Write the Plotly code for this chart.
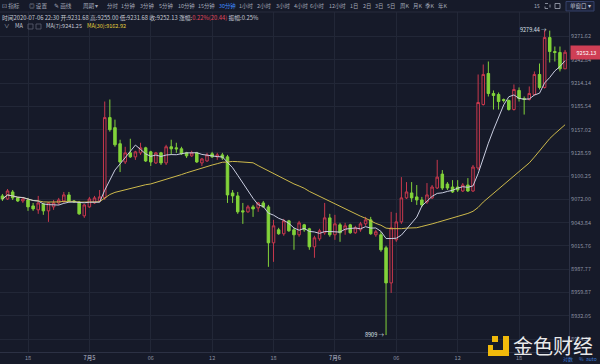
import numpy as np
import pandas as pd
import plotly.graph_objects as go

# ---------------- data ----------------
times = pd.date_range("2020-07-04 15:30", periods=111, freq="30min")

open_ = [
    9076.2, 9072.5, 9081.0, 9073.8, 9070.1, 9071.3, 9064.1, 9059.3, 9066.5, 9058.1,
    9062.9, 9067.7, 9070.1, 9077.4, 9070.1, 9068.9, 9052.1, 9062.9, 9067.7, 9070.1,
    9073.8, 9171.7, 9159.4, 9139.7, 9117.5, 9128.6, 9123.7, 9128.6, 9134.7, 9129.8,
    9116.3, 9128.6, 9116.3, 9136.0, 9134.7, 9133.5, 9128.6, 9124.9, 9128.6, 9116.3,
    9118.7, 9127.4, 9123.7, 9126.1, 9123.7, 9079.8, 9076.2, 9058.1, 9056.9, 9062.9,
    9061.7, 9067.7, 9062.9, 9019.5, 9035.2, 9030.4, 9046.0, 9035.2, 9029.2, 9041.2,
    9036.4, 9014.7, 9024.3, 9031.6, 9049.6, 9029.2, 9041.2, 9035.2, 9041.2, 9031.6,
    9035.2, 9042.4, 9047.2, 9029.2, 9029.2, 9013.5, 8971.3, 9023.1, 9044.8, 9073.8,
    9079.8, 9075.0, 9071.3, 9068.9, 9073.8, 9085.8, 9102.7, 9090.6, 9087.0, 9087.0,
    9082.2, 9089.4, 9082.2, 9110.1, 9187.7, 9225.9, 9201.3, 9200.0, 9193.9, 9192.7,
    9181.6, 9205.0, 9195.1, 9193.9, 9200.0, 9224.7, 9208.7, 9270.3, 9253.0, 9251.8,
    9231.68,
]
high = [
    9078.6, 9084.6, 9083.4, 9075.0, 9075.0, 9073.8, 9067.7, 9076.2, 9067.7, 9068.9,
    9071.3, 9073.8, 9081.0, 9081.0, 9071.3, 9070.1, 9066.5, 9075.0, 9076.2, 9083.4,
    9191.4, 9193.9, 9169.2, 9144.6, 9136.0, 9145.8, 9131.1, 9140.9, 9136.0, 9131.1,
    9129.8, 9129.8, 9138.4, 9144.6, 9140.9, 9136.0, 9129.8, 9131.1, 9129.8, 9122.4,
    9128.6, 9129.8, 9128.6, 9128.6, 9126.1, 9083.4, 9081.0, 9067.7, 9065.3, 9065.3,
    9068.9, 9070.1, 9065.3, 9047.2, 9037.6, 9048.4, 9047.2, 9037.6, 9046.0, 9042.4,
    9037.6, 9028.0, 9036.4, 9067.7, 9054.5, 9053.3, 9043.6, 9043.6, 9042.4, 9040.0,
    9044.8, 9050.8, 9050.8, 9035.2, 9032.8, 9015.9, 9056.9, 9055.7, 9099.0, 9093.0,
    9093.0, 9089.4, 9075.0, 9091.8, 9089.4, 9120.0, 9107.6, 9093.0, 9095.4, 9095.4,
    9091.8, 9097.8, 9113.8, 9224.7, 9237.0, 9240.7, 9205.0, 9202.5, 9195.1, 9193.9,
    9212.4, 9208.7, 9197.6, 9209.9, 9228.4, 9238.2, 9279.44, 9278.9, 9259.2, 9259.2,
    9255.00,
]
low = [
    9070.1, 9071.3, 9071.3, 9068.9, 9067.7, 9058.1, 9058.1, 9054.5, 9053.3, 9044.8,
    9059.3, 9065.3, 9067.7, 9068.9, 9067.7, 9053.3, 9049.6, 9061.7, 9066.5, 9068.9,
    9071.3, 9154.5, 9136.0, 9105.2, 9115.0, 9122.4, 9120.0, 9126.1, 9117.5, 9112.6,
    9115.0, 9113.8, 9113.8, 9126.1, 9128.6, 9126.1, 9122.4, 9123.7, 9116.3, 9112.6,
    9117.5, 9122.4, 9120.0, 9120.0, 9067.7, 9067.7, 9054.5, 9042.4, 9055.7, 9050.8,
    9056.9, 9061.7, 8990.6, 8996.6, 9029.2, 9028.0, 9032.8, 9011.1, 9026.8, 9032.8,
    9011.1, 9001.5, 9021.9, 9029.2, 9026.8, 9023.1, 9020.7, 9029.2, 9030.4, 9030.4,
    9032.8, 9040.0, 9029.2, 9026.8, 9008.7, 8909.0, 8959.3, 9020.7, 9042.4, 9072.5,
    9068.9, 9065.3, 9062.9, 9066.5, 9072.5, 9084.6, 9083.4, 9083.4, 9079.8, 9081.0,
    9081.0, 9081.0, 9081.0, 9107.6, 9186.5, 9197.6, 9181.6, 9181.6, 9190.2, 9180.3,
    9180.3, 9191.4, 9175.4, 9192.7, 9198.8, 9206.2, 9207.4, 9239.5, 9240.7, 9228.4,
    9231.68,
]
close = [
    9072.5, 9082.2, 9073.8, 9070.1, 9072.5, 9062.9, 9060.5, 9067.7, 9058.1, 9067.7,
    9067.7, 9071.3, 9077.4, 9070.1, 9068.9, 9054.5, 9065.3, 9072.5, 9073.8, 9075.0,
    9171.7, 9156.9, 9138.4, 9117.5, 9128.6, 9123.7, 9129.8, 9134.7, 9118.7, 9117.5,
    9128.6, 9116.3, 9136.0, 9133.5, 9133.5, 9127.4, 9124.9, 9128.6, 9117.5, 9121.2,
    9126.1, 9123.7, 9126.1, 9122.4, 9077.4, 9076.2, 9056.9, 9056.9, 9062.9, 9060.5,
    9067.7, 9062.9, 9019.5, 9040.0, 9030.4, 9046.0, 9034.0, 9029.2, 9043.6, 9035.2,
    9014.7, 9025.5, 9034.0, 9049.6, 9029.2, 9042.4, 9031.6, 9040.0, 9031.6, 9037.6,
    9042.4, 9047.2, 9030.4, 9032.8, 9011.1, 8971.3, 9037.6, 9044.8, 9073.8, 9081.0,
    9073.8, 9071.3, 9065.3, 9077.4, 9087.0, 9099.0, 9085.8, 9085.8, 9081.0, 9083.4,
    9089.4, 9082.2, 9111.3, 9190.2, 9224.7, 9201.3, 9198.8, 9191.4, 9192.7, 9181.6,
    9206.2, 9195.1, 9193.9, 9201.3, 9224.7, 9208.7, 9270.3, 9253.0, 9251.8, 9231.69,
    9252.13,
]

y_tick_vals = [9271.62, 9242.84, 9214.14, 9185.54, 9157.02, 9128.59, 9100.25,
               9072.00, 9043.84, 9015.76, 8987.77, 8959.87, 8932.05, 8904.32]
y_tick_text = [f"{v:.2f}" for v in y_tick_vals]
x_tick_vals = ["2020-07-04 18:00", "2020-07-05 00:00", "2020-07-05 06:00",
               "2020-07-05 12:00", "2020-07-05 18:00", "2020-07-06 00:00",
               "2020-07-06 06:00", "2020-07-06 12:00", "2020-07-06 18:00"]
x_tick_text = ["18", "<b>7月5</b>", "06", "12", "18", "<b>7月6</b>", "06", "12", "18"]

header_time = "2020-07-06 22:30"
ma7_label = "MA(7):9241.25"
ma30_label = "MA(30):9162.92"
period_items = ["分时", "1分钟", "3分钟", "5分钟", "10分钟", "15分钟", "30分钟", "1小时",
                "2小时", "3小时", "4小时", "6小时", "12小时", "1日", "2日", "3日", "5日",
                "周K", "月K", "季K", "年K"]
period_active = "30分钟"

# ---------------- derived ----------------
cs = pd.Series(close)
ma7 = cs.rolling(7, min_periods=1).mean()
ma30 = cs.rolling(30, min_periods=1).mean()

# ---------------- geometry ----------------
FW, FH = 600, 364
PL, PR, PT, PB = 0, 569, 12, 352
PW, PH = PR - PL, PB - PT


def px(x):
    return (x - PL) / PW


def py(y):
    return (PB - y) / PH


lt, lb = np.log10(y_tick_vals[0]), np.log10(y_tick_vals[-1])
per_px = (lt - lb) / (339.0 - 36.5)
y_range = [lb - (PB - 339.0) * per_px, lt + (36.5 - PT) * per_px]

step = pd.Timedelta(minutes=30)
x0_idx = (PL - 2.43) / 5.115
x1_idx = (PR - 2.43) / 5.115
x_range = [str(times[0] + step * x0_idx), str(times[0] + step * x1_idx)]

BG = "#161a29"
RED = "#c8384d"
GREEN = "#82d33a"
GRID = "#222737"
TXT = "#8d92a3"
CJK = "Noto Sans CJK SC, Noto Sans, sans-serif"

fig = go.Figure()
fig.add_trace(go.Candlestick(
    x=times, open=open_, high=high, low=low, close=close,
    increasing=dict(line=dict(color=RED, width=1), fillcolor=BG),
    decreasing=dict(line=dict(color=GREEN, width=1), fillcolor=GREEN),
    showlegend=False, hoverinfo="skip",
))
fig.add_trace(go.Scatter(x=times, y=ma30, mode="lines",
                         line=dict(color="#cdb94b", width=1), showlegend=False,
                         hoverinfo="skip"))
fig.add_trace(go.Scatter(x=times, y=ma7, mode="lines",
                         line=dict(color="#c9cde0", width=1), showlegend=False,
                         hoverinfo="skip"))

ann = []
shapes = []


def label(x, y, text, size=5.5, color="#a3a8b8", anchor="left", yanchor="middle", **kw):
    ann.append(dict(x=px(x), y=py(y), xref="paper", yref="paper", text=text,
                    showarrow=False, xanchor=anchor, yanchor=yanchor,
                    font=dict(size=size, color=color, family=CJK), borderpad=0, **kw))


# toolbar
label(1, 6, "⊡ 指标", 5.6)
label(28, 6, "◎ 设置", 5.6)
label(53, 6, "✎ 画线", 5.6)
label(82, 6, "周期 ▾", 5.6)
period_x = [106, 120, 139, 158, 177, 197, 218, 238, 256, 275, 293, 309, 328, 349,
            362, 374, 386, 399, 412, 424, 437]
for xx, t in zip(period_x, period_items):
    label(xx, 6, t, 5.4, "#3f8cff" if t == period_active else "#a3a8b8")
label(533, 6, "1s", 5.6)
shapes.append(dict(type="rect", xref="paper", yref="paper", x0=px(545), x1=px(550),
                   y0=py(8.5), y1=py(3.5), line=dict(color="#a3a8b8", width=0.8, dash="dot")))
shapes.append(dict(type="rect", xref="paper", yref="paper", x0=px(555), x1=px(560),
                   y0=py(8.5), y1=py(3.5), line=dict(color="#a3a8b8", width=0.8)))
shapes.append(dict(type="rect", xref="paper", yref="paper", x0=px(566), x1=px(594),
                   y0=py(11), y1=py(1.5), line=dict(color="#34406a", width=1),
                   fillcolor="#1c2238"))
label(580, 6.3, "单窗口 ▾", 5.5, "#c2c6d4", anchor="center")
shapes.append(dict(type="line", xref="paper", yref="paper", x0=0, x1=1,
                   y0=py(12), y1=py(12), line=dict(color="#262b3c", width=1)))

# header info lines
prev_close = close[-2]
chg = close[-1] - prev_close
pct = chg / prev_close * 100
amp = (high[-1] - low[-1]) / prev_close * 100
info = (f"时间{header_time} 开:{open_[-1]:.2f} 高:{high[-1]:.2f} 低:{low[-1]:.2f} "
        f"收:{close[-1]:.2f} 涨幅:<span style='color:#e0485c'>{pct:.2f}%({chg:.2f})</span> "
        f"振幅:{amp:.2f}%")
label(0.5, 17.5, info, 5.8, "#c5c8d3")
label(3, 26.5, "∨", 5.5, "#a3a8b8")
label(14, 26.5, "MA", 5.6, "#c5c8d3")
for bx in (28, 36):
    shapes.append(dict(type="rect", xref="paper", yref="paper", x0=px(bx), x1=px(bx + 5),
                       y0=py(29), y1=py(24), line=dict(color="#5a6072", width=0.8)))
label(45, 26.5, ma7_label, 5.5, "#c5c8d3")
label(86, 26.5, ma30_label, 5.5, "#e3cf3c")

# high / low markers
ann.append(dict(x=px(548), y=np.log10(max(high)), xref="paper", yref="y",
                text=f"{max(high):.2f} →", showarrow=False, xanchor="right", yanchor="middle",
                font=dict(size=5.5, color="#dfe2ea", family=CJK), borderpad=0))
lo_val = min(low)
lo_txt = f"{lo_val:.2f}".rstrip("0").rstrip(".")
ann.append(dict(x=px(385), y=np.log10(lo_val), xref="paper", yref="y",
                text=f"{lo_txt} →", showarrow=False, xanchor="right", yanchor="middle",
                font=dict(size=5.5, color="#dfe2ea", family=CJK), borderpad=0))

# current price tag
ann.append(dict(x=px(570), y=np.log10(close[-1]), xref="paper", yref="y",
                text=f"{close[-1]:.2f}", showarrow=False, xanchor="left", yanchor="middle",
                font=dict(size=5.5, color="#ffffff", family=CJK), bgcolor="#cf3f55",
                borderpad=2.5, width=26))

# watermark
label(553, 345, "金色财经", 20, "rgba(255,255,255,0.92)", anchor="center")
Y = "#f0b90b"
for (a, b, c, d) in [(492, 336, 498, 342), (503, 336, 509, 356), (488, 350, 509, 356),
                     (488, 345, 493, 356)]:
    shapes.append(dict(type="rect", xref="paper", yref="paper", x0=px(a), x1=px(c),
                       y0=py(d), y1=py(b), line=dict(width=0), fillcolor=Y))
label(562, 358.5, "对数", 5, "#3a7bd8")
label(578, 358.5, "%", 5, "#3a7bd8")
label(585, 358.5, "auto", 5, "#3a7bd8")

fig.update_layout(
    width=FW, height=FH,
    margin=dict(l=PL, r=FW - PR, t=PT, b=FH - PB),
    paper_bgcolor=BG, plot_bgcolor=BG,
    showlegend=False,
    annotations=ann, shapes=shapes,
    font=dict(family=CJK, color=TXT, size=5.5),
    xaxis=dict(type="date", range=x_range, rangeslider=dict(visible=False),
               tickmode="array", tickvals=x_tick_vals, ticktext=x_tick_text,
               showgrid=True, gridcolor=GRID, gridwidth=1, zeroline=False,
               showline=True, linecolor="#2c3144", ticks="",
               tickfont=dict(size=5.5, color=TXT, family=CJK)),
    yaxis=dict(type="log", range=y_range, side="right",
               tickmode="array", tickvals=y_tick_vals, ticktext=y_tick_text,
               showgrid=True, gridcolor=GRID, gridwidth=1, zeroline=False,
               showline=True, linecolor="#2c3144", ticks="",
               tickfont=dict(size=5.5, color=TXT, family=CJK)),
)

fig.write_html(
    "out.html",
    config={"displayModeBar": False},
    post_script="document.body.style.margin='0';document.body.style.padding='0';"
                "document.body.style.background='" + BG + "';"
                "document.documentElement.style.overflow='hidden';",
)
